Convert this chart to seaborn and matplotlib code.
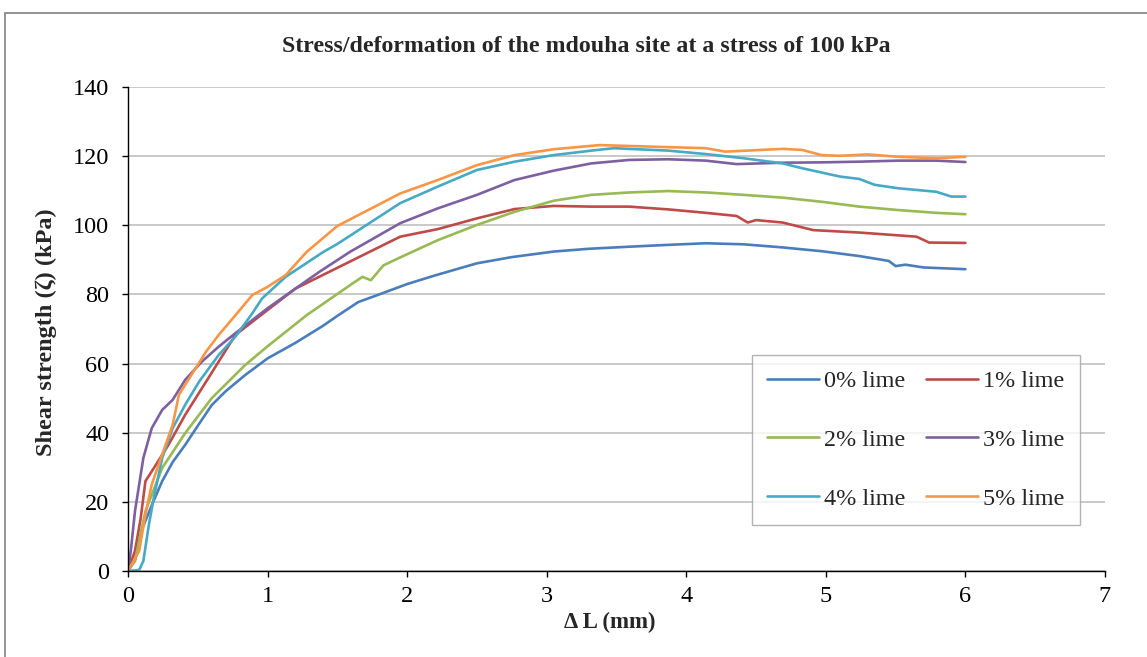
import matplotlib
matplotlib.use("Agg")
import matplotlib.pyplot as plt
import seaborn as sns
import pandas as pd
from matplotlib.patches import Rectangle

series_names = ["0% lime", "1% lime", "2% lime", "3% lime", "4% lime", "5% lime"]
colors = ["#4a7ebb", "#be4b48", "#98b954", "#7d60a0", "#46aac5", "#f79646"]

x0 = [0, 0.05, 0.1, 0.17, 0.245, 0.32, 0.41, 0.5, 0.6, 0.7, 0.84, 1.0, 1.2, 1.4, 1.5, 1.65, 1.8, 2.0, 2.2, 2.5,
      2.75, 3.05, 3.3, 3.59, 3.85, 4.14, 4.41, 4.69, 4.97, 5.24, 5.45, 5.5, 5.57, 5.7, 6.0]
y0 = [0, 3, 12, 19, 26, 31.5, 36.5, 42, 48, 52, 56.7, 61.5, 66, 71, 73.8, 77.8, 80, 83, 85.5, 89,
      90.8, 92.4, 93.2, 93.8, 94.3, 94.8, 94.5, 93.6, 92.5, 91.1, 89.7, 88.2, 88.6, 87.8, 87.3]

x1 = [0, 0.05, 0.09, 0.125, 0.17, 0.29, 0.41, 0.56, 0.77, 1.0, 1.2, 1.49, 1.73, 1.95, 2.22, 2.5, 2.77, 3.05,
      3.32, 3.59, 3.87, 4.14, 4.36, 4.44, 4.5, 4.69, 4.91, 5.24, 5.65, 5.74, 6.0]
y1 = [0, 5.8, 15, 26, 28.8, 36.5, 45.2, 54.8, 68.3, 75.5, 81.7, 87.5, 92.3, 96.7, 98.9, 102, 104.7, 105.6,
      105.4, 105.4, 104.6, 103.6, 102.7, 100.8, 101.5, 100.8, 98.6, 97.9, 96.7, 95, 94.9]

x2 = [0, 0.05, 0.125, 0.245, 0.41, 0.6, 0.84, 1.0, 1.28, 1.61, 1.68, 1.74, 1.83, 1.95, 2.22, 2.5, 2.77, 3.05,
      3.32, 3.59, 3.87, 4.14, 4.41, 4.69, 4.97, 5.24, 5.52, 5.79, 6.0]
y2 = [0, 3, 17.3, 29.8, 39.9, 50, 59.6, 65, 74, 83.2, 85.1, 84.1, 88.4, 90.7, 95.7, 100.1, 103.9, 107.1,
      108.8, 109.5, 109.9, 109.5, 108.8, 108, 106.8, 105.4, 104.4, 103.6, 103.2]

x3 = [0, 0.02, 0.05, 0.11, 0.17, 0.245, 0.32, 0.41, 0.53, 0.65, 0.77, 1.0, 1.2, 1.37, 1.59, 1.95, 2.22, 2.5,
      2.77, 3.05, 3.32, 3.59, 3.87, 4.14, 4.36, 4.69, 4.97, 5.24, 5.52, 5.79, 6.0]
y3 = [0, 5.8, 17.3, 32.7, 41.3, 46.6, 49.5, 55.3, 60.6, 64.9, 68.8, 76, 81.7, 86.5, 92.3, 100.6, 104.9, 108.8,
      113.1, 115.8, 117.9, 118.9, 119.1, 118.7, 117.7, 118.1, 118.2, 118.4, 118.7, 118.7, 118.3]

x4 = [0, 0.08, 0.11, 0.15, 0.185, 0.245, 0.32, 0.41, 0.51, 0.65, 0.77, 0.89, 0.96, 1.13, 1.4, 1.5, 1.95, 2.22,
      2.5, 2.77, 3.05, 3.32, 3.48, 3.87, 4.14, 4.41, 4.69, 4.83, 5.1, 5.24, 5.35, 5.52, 5.79, 5.9, 6.0]
y4 = [0, 0.3, 2.9, 13.5, 21.2, 32.7, 41.3, 48.1, 54.8, 62.5, 67.8, 74.5, 78.8, 85.1, 92.3, 94.6, 106.4, 111.2,
      116, 118.4, 120.3, 121.6, 122.3, 121.6, 120.6, 119.4, 117.9, 116.5, 114.1, 113.4, 111.7, 110.7, 109.7, 108.3, 108.3]

x5 = [0, 0.08, 0.125, 0.17, 0.245, 0.32, 0.365, 0.44, 0.56, 0.65, 0.77, 0.89, 1.0, 1.13, 1.28, 1.5, 1.95, 2.22,
      2.5, 2.77, 3.05, 3.38, 3.87, 4.14, 4.28, 4.69, 4.83, 4.97, 5.1, 5.3, 5.52, 5.79, 6.0]
y5 = [0, 5.8, 16.3, 25, 33.7, 42.3, 51, 55.8, 63.5, 68.3, 74, 79.8, 82.2, 85.6, 92.3, 99.8, 109.2, 113.1,
      117.4, 120.3, 122, 123.2, 122.6, 122.3, 121.3, 122.1, 121.8, 120.3, 120.1, 120.5, 119.8, 119.4, 119.8]

xs = [x0, x1, x2, x3, x4, x5]
ys = [y0, y1, y2, y3, y4, y5]

rows = []
for name, xv, yv in zip(series_names, xs, ys):
    for i, (a, b) in enumerate(zip(xv, yv)):
        rows.append({"series": name, "order": i, "dL": a, "tau": b})
df = pd.DataFrame(rows)

sns.set_theme(style="white")
plt.rcParams["font.family"] = ["Liberation Serif", "DejaVu Serif"]

fig = plt.figure(figsize=(11.47, 6.57), dpi=100)
ax = fig.add_axes([128/1147, 1-571/657, (1105-128)/1147, (571-87)/657])

sns.lineplot(data=df, x="dL", y="tau", hue="series", hue_order=series_names,
             palette=colors, estimator=None, sort=False, units="series",
             linewidth=1.9, ax=ax)

ax.set_xlim(0, 7)
ax.set_ylim(0, 140)
ax.set_xticks(range(0, 8))
ax.set_yticks(range(0, 141, 20))
ax.yaxis.grid(True, color="#c0c0c0", linewidth=1.2)
ax.xaxis.grid(False)
ax.set_axisbelow(True)
for s in ["top", "right"]:
    ax.spines[s].set_visible(False)
for s in ["left", "bottom"]:
    ax.spines[s].set_color("black")
    ax.spines[s].set_linewidth(1.0)
ax.tick_params(axis="both", which="major", direction="out", length=4.5, width=1,
               color="black", labelsize=17.5, labelcolor="black", bottom=True, left=True)
ax.tick_params(axis="y", pad=9)
ax.tick_params(axis="x", pad=6)

ax.set_xlabel("Δ L (mm)", fontsize=16.5, fontweight="bold")
ax.set_ylabel("Shear strength (ζ) (kPa)", fontsize=17.5, fontweight="bold")
ax.xaxis.set_label_coords(0.5 + (610 - 616.5)/977, (571 - 612)/484)
ax.yaxis.set_label_coords((57 - 128)/977, 0.5 + (571 - 332 - 242)/484)
fig.text(586/1147, 1 - 47/657, "Stress/deformation of the mdouha site at a stress of 100 kPa",
         ha="center", va="center", fontsize=17.2, fontweight="bold")

handles, labels = ax.get_legend_handles_labels()
order = [0, 2, 4, 1, 3, 5]
leg = ax.legend([handles[i] for i in order], [labels[i] for i in order],
                loc="lower left", bbox_to_anchor=((752-128)/977, (571-525)/484, (1080-752)/977, (525-351)/484),
                mode="expand", ncol=2, fontsize=17.4, frameon=True, fancybox=False,
                edgecolor="#a0a0a0", handlelength=2.15, handletextpad=0.2, borderpad=0.64,
                labelspacing=1.52, columnspacing=1.0, borderaxespad=0)
leg.get_frame().set_linewidth(1.0)
for l in leg.get_lines():
    l.set_linewidth(1.9)

fig.patches.append(Rectangle((5/1147, -0.1), 1.2, 1.1 - 13/657, transform=fig.transFigure,
                             fill=False, edgecolor="#808080", linewidth=1.2))

fig.savefig("out.png", dpi=100)
